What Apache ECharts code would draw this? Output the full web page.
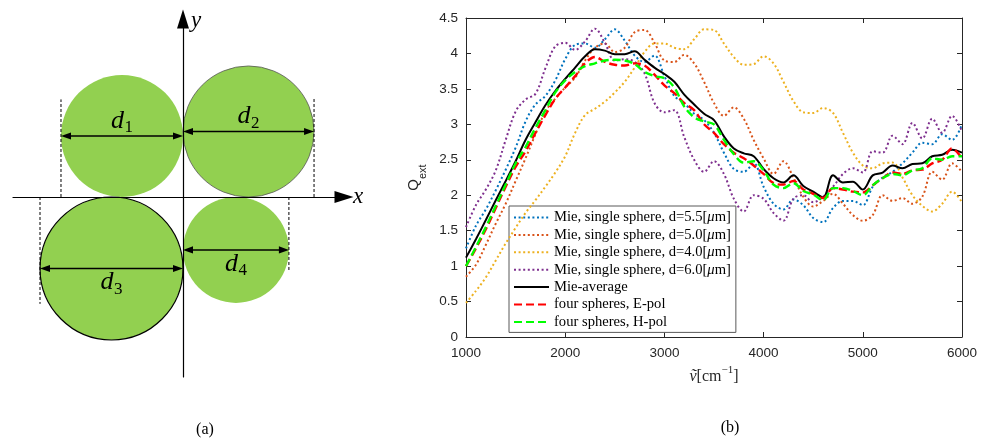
<!DOCTYPE html>
<html>
<head>
<meta charset="utf-8">
<title>Four spheres: geometry and extinction efficiency</title>
<script src="https://cdn.jsdelivr.net/npm/echarts@6/dist/echarts.min.js"></script>
<style>
  html, body { margin: 0; padding: 0; background: #fff; }
  #main { width: 1005px; height: 443px; }
</style>
</head>
<body>
<div id="main"></div>
<script>
// ---------- (a) sphere arrangement ----------
const sphereLabels = ['1', '2', '3', '4'];
const sphereDiameters = [5.0, 5.37, 5.86, 4.34];
// quadrant of each sphere (sign of x, sign of y); every sphere touches both axes
const sphereQuadrants = [[-1, 1], [1, 1], [-1, -1], [1, -1]];

// ---------- (b) extinction efficiency ----------
const wavenumbers = [1000, 1100, 1200, 1300, 1400, 1500, 1600, 1700, 1800, 1900,
  2000, 2100, 2200, 2300, 2400, 2500, 2600, 2700, 2800, 2900,
  3000, 3100, 3200, 3300, 3400, 3500, 3600, 3700, 3800, 3900,
  4000, 4100, 4200, 4300, 4400, 4500, 4600, 4700, 4800, 4900,
  5000, 5100, 5200, 5300, 5400, 5500, 5600, 5700, 5800, 5900, 6000];

const qMie55 = [1.25, 1.57, 1.8, 2.07, 2.36, 2.67, 3.04, 3.28, 3.4, 3.62,
  3.92, 4.12, 4.14, 4.08, 4.2, 4.34, 4.18, 3.97, 3.88, 3.97,
  3.68, 3.4, 3.3, 3.15, 3.06, 2.88, 2.6, 2.37, 2.33, 2.45,
  2.12, 1.88, 1.8, 1.94, 1.86, 1.68, 1.62, 1.82, 1.92, 1.92,
  1.86, 2.12, 2.25, 2.33, 2.45, 2.6, 2.74, 2.72, 2.86, 2.78, 3.0];

const qMie50 = [0.85, 1.02, 1.3, 1.6, 1.88, 2.2, 2.52, 2.86, 3.18, 3.36,
  3.52, 3.66, 3.9, 4.08, 4.14, 4.02, 4.08, 4.3, 4.33, 4.15,
  3.9, 3.88, 3.98, 3.86, 3.6, 3.3, 3.12, 3.24, 3.08, 2.78,
  2.52, 2.3, 2.48, 2.25, 1.98, 1.84, 1.92, 2.02, 1.88, 1.72,
  1.64, 1.72, 2.0, 1.92, 1.96, 1.88, 1.98, 2.33, 2.22, 2.45, 2.33];

const qMie40 = [0.48, 0.65, 0.84, 1.08, 1.32, 1.54, 1.75, 1.93, 2.12, 2.32,
  2.55, 2.88, 3.13, 3.22, 3.32, 3.45, 3.6, 3.8, 4.02, 4.14,
  4.14, 4.08, 4.06, 4.2, 4.34, 4.33, 4.14, 3.95, 3.84, 3.85,
  3.96, 3.86, 3.6, 3.33, 3.17, 3.16, 3.23, 3.16, 2.88, 2.6,
  2.42, 2.38, 2.45, 2.46, 2.25, 2.0, 1.85, 1.77, 1.88, 2.05, 1.9];

const qMie60 = [1.55, 1.86, 2.08, 2.35, 2.78, 3.18, 3.35, 3.43, 3.79, 4.1,
  4.15, 4.05, 4.17, 4.35, 4.15, 3.9, 3.92, 3.88, 3.72, 3.3,
  3.17, 3.2, 2.82, 2.5, 2.33, 2.48, 2.3, 1.95, 1.77, 2.0,
  1.95, 1.75, 1.64, 1.95, 2.0, 1.9, 1.98, 2.12, 2.3, 2.38,
  2.32, 2.62, 2.6, 2.84, 2.72, 3.02, 2.8, 3.08, 2.88, 3.12, 2.9];

const qMieAvg = [1.12, 1.38, 1.65, 1.93, 2.2, 2.48, 2.78, 3.03, 3.27, 3.47,
  3.64, 3.8, 3.96, 4.06, 4.04, 3.99, 3.99, 4.03, 3.91, 3.8,
  3.71, 3.6, 3.42, 3.28, 3.15, 3.06, 2.83, 2.66, 2.59, 2.55,
  2.37, 2.24, 2.18, 2.28, 2.13, 2.05, 1.97, 2.28, 2.18, 2.19,
  2.08, 2.28, 2.32, 2.42, 2.38, 2.44, 2.45, 2.55, 2.57, 2.64, 2.6];

const qEpol = [1.0, 1.25, 1.52, 1.82, 2.12, 2.4, 2.62, 2.88, 3.13, 3.36,
  3.52, 3.68, 3.86, 3.95, 3.88, 3.84, 3.83, 3.86, 3.83, 3.7,
  3.55, 3.44, 3.3, 3.2, 3.0, 2.88, 2.72, 2.6, 2.52, 2.42,
  2.3, 2.17, 2.15, 2.2, 2.08, 2.02, 1.96, 2.1, 2.08, 2.05,
  2.04, 2.14, 2.24, 2.32, 2.3, 2.35, 2.36, 2.45, 2.5, 2.66, 2.52];

const qHpol = [1.0, 1.27, 1.55, 1.85, 2.15, 2.45, 2.68, 2.95, 3.2, 3.45,
  3.62, 3.74, 3.82, 3.86, 3.9, 3.91, 3.9, 3.85, 3.74, 3.68,
  3.65, 3.52, 3.25, 3.1, 3.04, 3.0, 2.78, 2.58, 2.46, 2.48,
  2.35, 2.15, 2.1, 2.17, 2.06, 2.01, 1.93, 2.1, 2.1, 2.06,
  2.0, 2.14, 2.24, 2.3, 2.28, 2.35, 2.38, 2.52, 2.5, 2.55, 2.55];

const seriesNames = [
  'Mie, single sphere, d=5.5[μm]',
  'Mie, single sphere, d=5.0[μm]',
  'Mie, single sphere, d=4.0[μm]',
  'Mie, single sphere, d=6.0[μm]',
  'Mie-average',
  'four spheres, E-pol',
  'four spheres, H-pol'
];
const seriesValues = [qMie55, qMie50, qMie40, qMie60, qMieAvg, qEpol, qHpol];

// line appearance per series
const dotted = [2, 2.6];
const dashed = [8, 4];
const seriesLook = [
  { color: '#0072BD', type: dotted, width: 2 },
  { color: '#D95319', type: dotted, width: 2 },
  { color: '#EDB120', type: dotted, width: 2 },
  { color: '#7E2F8E', type: dotted, width: 2 },
  { color: '#000000', type: 'solid', width: 2 },
  { color: '#FF0000', type: dashed, width: 2.4 },
  { color: '#00FF00', type: dashed, width: 2.4 }
];

// sphere outlines and how far each dashed guide runs past the diameter
const sphereOutline = [
  { stroke: null, width: 0 },
  { stroke: '#555555', width: 0.8 },
  { stroke: '#000000', width: 1.2 },
  { stroke: null, width: 0 }
];
const guideOvershoot = [1.5, 1.4, 1.45, 0.85];

const AXIS_COLOR = '#262626';
const SANS = '"Liberation Sans", Arial, sans-serif';
const SERIF = '"Liberation Serif", "Times New Roman", serif';

function renderSphere(params, api) {
  const i = api.value(3);
  const cx = api.value(0), cy = api.value(1), d = api.value(2);
  const sx = sphereQuadrants[i][0], sy = sphereQuadrants[i][1];
  const c = api.coord([cx, cy]);
  const r = api.size([d, 0])[0] / 2;
  const xl = c[0] - r, xr = c[0] + r, y = c[1];
  const edgeX = sx < 0 ? xl : xr;
  const base = api.coord([0, 0])[1];
  const guideEnd = api.coord([0, cy + sy * guideOvershoot[i]])[1];
  const ah = 10, aw = 3.6;
  const dMid = sy > 0 ? y - 15 : y + 14;
  const o = sphereOutline[i];
  return {
    type: 'group',
    children: [
      { type: 'circle', shape: { cx: c[0], cy: y, r: r },
        style: { fill: '#92D050', stroke: o.stroke, lineWidth: o.width } },
      { type: 'line', shape: { x1: edgeX, y1: base, x2: edgeX, y2: guideEnd },
        style: { stroke: '#000', lineWidth: 1, lineDash: [3, 2] } },
      { type: 'line', shape: { x1: xl + ah - 1, y1: y, x2: xr - ah + 1, y2: y },
        style: { stroke: '#000', lineWidth: 1.4 } },
      { type: 'polygon', shape: { points: [[xl, y], [xl + ah, y - aw], [xl + ah, y + aw]] },
        style: { fill: '#000' } },
      { type: 'polygon', shape: { points: [[xr, y], [xr - ah, y - aw], [xr - ah, y + aw]] },
        style: { fill: '#000' } },
      { type: 'text', x: c[0] - 11, y: dMid,
        style: { text: 'd', font: 'italic 26px ' + SERIF, fill: '#000',
                 align: 'left', verticalAlign: 'middle' } },
      { type: 'text', x: c[0] + 2.5, y: dMid + 7,
        style: { text: sphereLabels[i], font: '17px ' + SERIF, fill: '#000',
                 align: 'left', verticalAlign: 'middle' } }
    ]
  };
}

const chart = echarts.init(document.getElementById('main'), null, { renderer: 'canvas' });

const lineSeries = seriesNames.map((name, k) => ({
  name: name,
  type: 'line',
  xAxisIndex: 1,
  yAxisIndex: 1,
  data: wavenumbers.map((v, j) => [v, seriesValues[k][j]]),
  symbol: 'none',
  showSymbol: false,
  smooth: 0.35,
  clip: true,
  itemStyle: { color: seriesLook[k].color },
  lineStyle: { color: seriesLook[k].color, width: seriesLook[k].width, type: seriesLook[k].type, cap: 'butt' },
  emphasis: { disabled: true },
  z: 2 + k
}));

const chartAxisCommon = {
  gridIndex: 1,
  type: 'value',
  axisLine: { show: true, onZero: false, lineStyle: { color: AXIS_COLOR, width: 1 } },
  axisTick: { show: true, inside: true, length: 5, lineStyle: { color: AXIS_COLOR, width: 1 } },
  splitLine: { show: false }
};

const option = {
  animation: false,
  backgroundColor: '#fff',
  grid: [
    { left: 13, top: 19, width: 331, height: 358, outerBoundsMode: 'none', containLabel: false },
    { left: 466, top: 18, width: 496, height: 319, outerBoundsMode: 'none', containLabel: false }
  ],
  xAxis: [
    {
      gridIndex: 0, type: 'value', min: -6.967, max: 6.598, z: 5,
      axisLine: { show: true, onZero: true, symbol: ['none', 'triangle'], symbolSize: [12, 19],
                  lineStyle: { color: '#000', width: 1.2 } },
      axisTick: { show: false }, axisLabel: { show: false }, splitLine: { show: false },
      name: 'x', nameLocation: 'end', nameGap: 9,
      nameTextStyle: { fontFamily: SERIF, fontStyle: 'italic', fontSize: 23, color: '#000',
                       align: 'left', verticalAlign: 'middle', padding: [14, 0, 0, 0] }
    },
    Object.assign({}, chartAxisCommon, {
      position: 'bottom', min: 1000, max: 6000, interval: 1000,
      axisLabel: { show: true, color: AXIS_COLOR, fontFamily: SANS, fontSize: 13.5, margin: 9,
                   formatter: (v) => String(v) },
      name: '{v|ṽ}{t|[cm}{e|−1}{t|]}', nameLocation: 'middle', nameGap: 28,
      nameTextStyle: {
        rich: {
          v: { fontFamily: SERIF, fontStyle: 'italic', fontSize: 16, color: AXIS_COLOR, lineHeight: 20, verticalAlign: 'bottom' },
          t: { fontFamily: SERIF, fontSize: 16, color: AXIS_COLOR, lineHeight: 20, verticalAlign: 'bottom' },
          e: { fontFamily: SERIF, fontSize: 11, color: AXIS_COLOR, lineHeight: 11, verticalAlign: 'top' }
        }
      }
    }),
    Object.assign({}, chartAxisCommon, {
      position: 'top', min: 1000, max: 6000, interval: 1000,
      axisLabel: { show: false }
    })
  ],
  yAxis: [
    {
      gridIndex: 0, type: 'value', min: -7.377, max: 7.295, z: 5,
      axisLine: { show: true, onZero: true, symbol: ['none', 'triangle'], symbolSize: [12, 19],
                  lineStyle: { color: '#000', width: 1.2 } },
      axisTick: { show: false }, axisLabel: { show: false }, splitLine: { show: false },
      name: 'y', nameLocation: 'end', nameGap: -2,
      nameTextStyle: { fontFamily: SERIF, fontStyle: 'italic', fontSize: 23, color: '#000',
                       align: 'left', verticalAlign: 'middle', padding: [0, 0, 0, 8] }
    },
    Object.assign({}, chartAxisCommon, {
      position: 'left', min: 0, max: 4.5, interval: 0.5,
      axisLabel: { show: true, color: AXIS_COLOR, fontFamily: SANS, fontSize: 13.5, margin: 8 },
      name: '{q|Q}{s|ext}', nameLocation: 'middle', nameRotate: 90, nameGap: 38,
      nameTextStyle: {
        rich: {
          q: { fontFamily: SANS, fontSize: 15, color: AXIS_COLOR, lineHeight: 22, verticalAlign: 'top' },
          s: { fontFamily: SANS, fontSize: 11, color: AXIS_COLOR, lineHeight: 11, verticalAlign: 'bottom' }
        }
      }
    }),
    Object.assign({}, chartAxisCommon, {
      position: 'right', min: 0, max: 4.5, interval: 0.5,
      axisLabel: { show: false }
    })
  ],
  legend: {
    show: true,
    orient: 'vertical',
    left: 509,
    top: 206,
    padding: [4, 5, 3, 4],
    itemGap: 2.4,
    itemWidth: 35,
    itemHeight: 14,
    backgroundColor: '#fff',
    borderColor: '#595959',
    borderWidth: 1,
    borderRadius: 0,
    selectedMode: false,
    data: seriesNames,
    itemStyle: { opacity: 0 },
    formatter: (n) => n.replace('μ', '{mu|μ}'),
    textStyle: {
      fontFamily: SERIF, fontSize: 14.6, color: '#000', lineHeight: 15,
      rich: { mu: { fontFamily: SERIF, fontStyle: 'italic', fontSize: 14.6, color: '#000', lineHeight: 15 } }
    }
  },
  graphic: [
    { type: 'text', x: 205, y: 430, style: { text: '(a)', font: '16px ' + SERIF, fill: '#000', align: 'center', verticalAlign: 'middle' } },
    { type: 'text', x: 730, y: 428, style: { text: '(b)', font: '16px ' + SERIF, fill: '#000', align: 'center', verticalAlign: 'middle' } }
  ],
  series: [
    {
      name: 'spheres',
      type: 'custom',
      xAxisIndex: 0,
      yAxisIndex: 0,
      clip: false,
      silent: true,
      z: 1,
      data: sphereDiameters.map((d, i) => [sphereQuadrants[i][0] * d / 2, sphereQuadrants[i][1] * d / 2, d, i]),
      renderItem: renderSphere
    }
  ].concat(lineSeries)
};

chart.setOption(option);
</script>
</body>
</html>
